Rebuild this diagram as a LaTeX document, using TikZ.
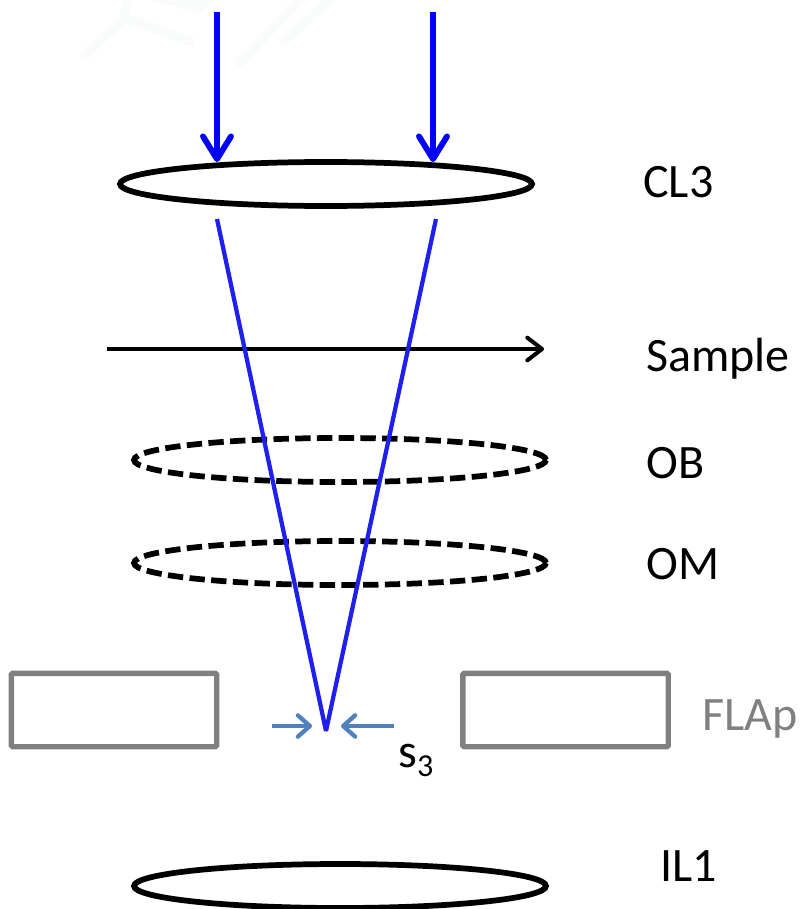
\documentclass[tikz,border=0pt]{standalone}
\usepackage{fontspec}
\setmainfont{Carlito}
\usetikzlibrary{arrows.meta,shapes.geometric}
\definecolor{beam}{HTML}{0000FF}
\definecolor{ray}{HTML}{2020EE}
\definecolor{apgray}{HTML}{808080}
\definecolor{sizeblue}{HTML}{4F81BD}
\definecolor{wm}{HTML}{FAFBFB}
\tikzset{
  lens/.style={ellipse,draw=black,line width=4.3pt,minimum width=309pt,minimum height=33pt,inner sep=0pt},
  weaklens/.style={lens,dash pattern=on 11.5pt off 4.8pt},
  aperture/.style={draw=apgray,line width=4pt,rounded corners=1pt,minimum width=154pt,minimum height=55pt,inner sep=0pt},
  beamarrow/.style={draw=beam,line width=4.2pt,-{Straight Barb[length=17pt,width=21pt,line width=4.4pt,round]}},
  rayline/.style={draw=ray,line width=3.2pt,line join=bevel},
  samplearrow/.style={draw=black,line width=2.8pt,-{Straight Barb[length=11pt,width=17pt,line width=3pt,round]}},
  sizearrow/.style={draw=sizeblue,line width=3.2pt,-{Straight Barb[length=9pt,width=16pt,line width=3.2pt,round]}},
  lbl/.style={font=\fontsize{36}{42}\selectfont,inner sep=0pt,anchor=base west},
  faint/.style={draw=wm,line width=7pt,line cap=round}
}
\begin{document}
\begin{tikzpicture}[x=0.75pt,y=-0.75pt]
\useasboundingbox (0,0) rectangle (801,909);
% faint watermark
\draw[faint] (127,0) -- (125,17) -- (85,55);
\draw[faint] (125,17) -- (190,42);
\draw[faint] (240,62) -- (300,0);
\draw[faint] (285,40) -- (330,0);
\fill[wm] (150,0) -- (200,14) -- (215,0) -- cycle;
% nodes
\node[lens] (cl3) at (326,184) {};
\node[weaklens] (ob) at (340,460) {};
\node[weaklens] (om) at (340,563) {};
\node[lens] (il1) at (340,886) {};
\node[aperture] (apl) at (114,710) {};
\node[aperture] (apr) at (565.5,710) {};
% free ends
\coordinate (b1s) at (217,12);
\coordinate (b1e) at (217,162);
\coordinate (b2s) at (433,12);
\coordinate (b2e) at (433,162);
\coordinate (r1) at (217,219);
\coordinate (r2) at (436,219);
\coordinate (focus) at (326,731);
\coordinate (ss) at (107,349);
\coordinate (se) at (544,349);
\coordinate (a1s) at (272,726);
\coordinate (a1e) at (312,726);
\coordinate (a2s) at (394,726);
\coordinate (a2e) at (341,726);
% connectors
\draw[beamarrow] (b1s) -- (b1e);
\draw[beamarrow] (b2s) -- (b2e);
\draw[samplearrow] (ss) -- (se);
\draw[rayline] (r1) -- (focus) -- (r2);
\draw[sizearrow] (a1s) -- (a1e);
\draw[sizearrow] (a2s) -- (a2e);
% labels
\node[lbl] (tcl3) at (643,198) {CL3};
\node[lbl] (tsample) at (646,371) {Sample};
\node[lbl] (tob) at (646,478) {OB};
\node[lbl] (tom) at (646,579) {OM};
\node[lbl,text=apgray] (tflap) at (702,730) {FLAp};
\node[lbl] (til1) at (660,881) {IL1};
\node[lbl] (ts3) at (398,767) {s\raisebox{-7pt}{\fontsize{24}{28}\selectfont 3}};
\end{tikzpicture}
\end{document}
